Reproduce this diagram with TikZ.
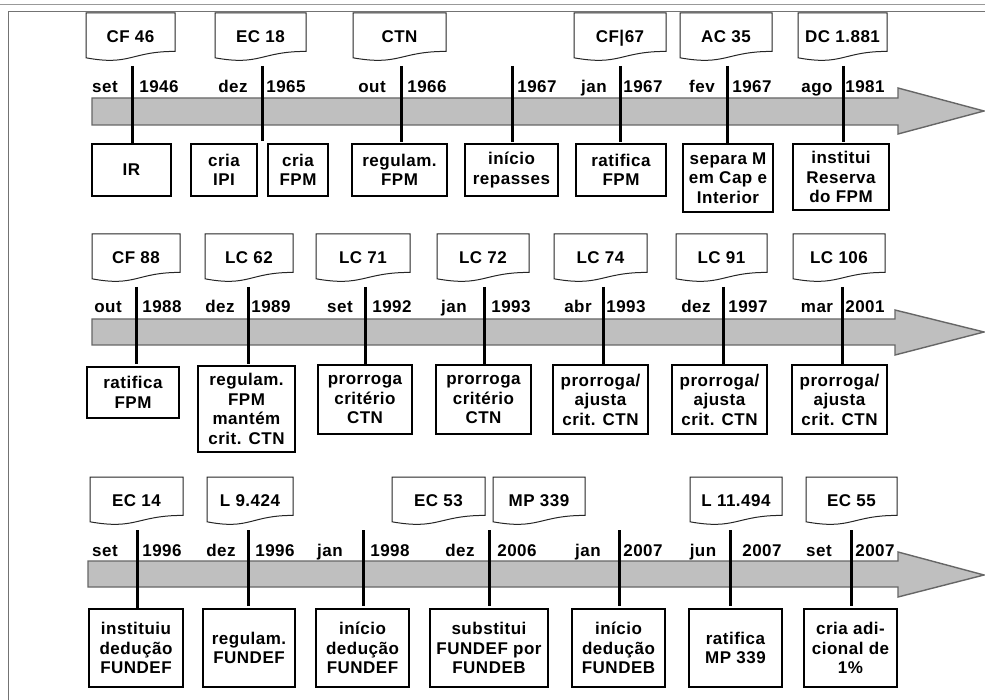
\documentclass[tikz,border=0pt]{standalone}
\usepackage{fontspec}
\setmainfont{Liberation Sans}[LetterSpace=3]
\tikzset{
  x=1pt, y=-1pt,
  txt/.style={font=\bfseries\fontsize{17}{19.5}\selectfont, align=center, inner sep=0pt},
  lbl/.style={txt, anchor=base},
  boxnode/.style={txt, draw=black, line width=1.2pt},
  docnode/.style={txt},
  docline/.style={draw=black!85, line width=1pt, fill=white},
  arrowbody/.style={draw=black!60, line width=1.4pt, fill=black!25, line join=miter},
  tickline/.style={draw=black, line width=3pt},
  frameline/.style={draw=black!55, line width=1pt}
}
% box: name, x1, y1, x2, y2, text
\newcommand\bx[6]{\node[boxnode, minimum width={#4-#2}, minimum height={#5-#3}] (#1) at ({(#2+#4)/2},{(#3+#5)/2}) {#6};}
% document: name, x1, x2, top, text
\newcommand\dc[5]{%
  \path[docline] (#2,#4) -- (#3,#4) -- (#3,#4+38.4) .. controls ({(#2+#3)/2},#4+38.4) and ({(#2+#3)/2},#4+53.1) .. (#2,#4+44.8) -- cycle;
  \node[docnode, anchor=base] (#1) at ({(#2+#3)/2},#4+29.5) {#5};}
% timeline arrow: y1, y2, xleft, xhead, headtop, headbottom, ytip
\newcommand\arr[7]{\path[arrowbody] (#3,#1) -- (#4,#1) -- (#4,#5) -- (984,#7) -- (#4,#6) -- (#4,#2) -- (#3,#2) -- cycle;}
% tick: name, x, ytop, ybottom
\newcommand\tk[4]{\coordinate (#1a) at (#2,#3); \coordinate (#1b) at (#2,#4); \draw[tickline] (#1a) -- (#1b);}
\begin{document}
\begin{tikzpicture}
\useasboundingbox (0,0) rectangle (985,700);
% window frame
\coordinate (fa) at (0,4.5); \coordinate (fb) at (985,4.5);
\coordinate (fc) at (8,12); \coordinate (fd) at (985,12); \coordinate (fe) at (8,700);
\draw[frameline, black!40] (fa) -- (fb);
\draw[frameline] (fd) -- (fc) -- (fe);

% ================= ROW 1 =================
\arr{98}{125}{92}{898}{88}{134}{111}
\dc{d11}{86}{175}{13}{CF 46}
\dc{d12}{215}{306}{13}{EC 18}
\dc{d13}{353}{446}{13}{CTN}
\dc{d14}{574}{666}{13}{CF|67}
\dc{d15}{680}{772}{13}{AC 35}
\dc{d16}{798}{887}{13}{DC 1.881}
\tk{t11}{132}{66}{143}
\tk{t12}{262}{66}{141}
\tk{t13}{401}{66}{142}
\tk{t14}{512}{66}{142}
\tk{t15}{620}{66}{142}
\tk{t16}{727}{66}{144}
\tk{t17}{843}{66}{142}
\node[lbl] (m11) at (105,93) {set};  \node[lbl] (y11) at (159,93) {1946};
\node[lbl] (m12) at (233,93) {dez};  \node[lbl] (y12) at (286,93) {1965};
\node[lbl] (m13) at (372,93) {out};  \node[lbl] (y13) at (427,93) {1966};
\node[lbl] (y14) at (537,93) {1967};
\node[lbl] (m15) at (594,93) {jan};  \node[lbl] (y15) at (643,93) {1967};
\node[lbl] (m16) at (702,93) {fev};  \node[lbl] (y16) at (752,93) {1967};
\node[lbl] (m17) at (817,93) {ago};  \node[lbl] (y17) at (865,93) {1981};
\bx{b11}{92}{144}{171}{196}{IR}
\bx{b12}{191}{144}{257}{196}{cria\\IPI}
\bx{b13}{268}{144}{328}{196}{cria\\FPM}
\bx{b14}{352}{144}{447}{196}{regulam.\\FPM}
\bx{b15}{465}{144}{558}{196}{início\\repasses}
\bx{b16}{576}{144}{666}{196}{ratifica\\FPM}
\bx{b17}{683}{144}{773}{212}{separa M\\em Cap e\\Interior}
\bx{b18}{793}{144}{889}{210}{institui\\Reserva\\do FPM}

% ================= ROW 2 =================
\arr{319}{345}{92}{895}{310}{355}{332}
\dc{d21}{92}{180}{234}{CF 88}
\dc{d22}{205}{293}{234}{LC 62}
\dc{d23}{316}{410}{234}{LC 71}
\dc{d24}{437}{529}{234}{LC 72}
\dc{d25}{554}{647}{234}{LC 74}
\dc{d26}{676}{767}{234}{LC 91}
\dc{d27}{793}{885}{234}{LC 106}
\tk{t21}{136}{287}{364}
\tk{t22}{248}{287}{364}
\tk{t23}{365}{287}{364}
\tk{t24}{484}{287}{364}
\tk{t25}{603}{287}{364}
\tk{t26}{723}{287}{364}
\tk{t27}{842}{287}{364}
\node[lbl] (m21) at (108,313) {out};  \node[lbl] (y21) at (162,313) {1988};
\node[lbl] (m22) at (220,313) {dez};  \node[lbl] (y22) at (271,313) {1989};
\node[lbl] (m23) at (340,313) {set};  \node[lbl] (y23) at (392,313) {1992};
\node[lbl] (m24) at (454,313) {jan};  \node[lbl] (y24) at (511,313) {1993};
\node[lbl] (m25) at (578,313) {abr};  \node[lbl] (y25) at (626,313) {1993};
\node[lbl] (m26) at (696,313) {dez};  \node[lbl] (y26) at (748,313) {1997};
\node[lbl] (m27) at (817,313) {mar};  \node[lbl] (y27) at (865,313) {2001};
\bx{b21}{87}{367}{179}{418}{ratifica\\FPM}
\bx{b22}{198}{366}{295}{452}{regulam.\\FPM\\mantém\\crit. CTN}
\bx{b23}{318}{365}{412}{434}{prorroga\\critério\\CTN}
\bx{b24}{436}{365}{531}{434}{prorroga\\critério\\CTN}
\bx{b25}{553}{365}{648}{434}{prorroga/\\ajusta\\crit. CTN}
\bx{b26}{672}{365}{767}{434}{prorroga/\\ajusta\\crit. CTN}
\bx{b27}{792}{365}{887}{434}{prorroga/\\ajusta\\crit. CTN}

% ================= ROW 3 =================
\arr{561}{587}{88}{898}{552}{597}{575}
\dc{d31}{90}{183}{477}{EC 14}
\dc{d32}{207}{293}{477}{L 9.424}
\dc{d33}{392}{485}{477}{EC 53}
\dc{d34}{493}{585}{477}{MP 339}
\dc{d35}{690}{782}{477}{L 11.494}
\dc{d36}{806}{897}{477}{EC 55}
\tk{t31}{137}{530}{608}
\tk{t32}{248}{530}{606}
\tk{t33}{363}{530}{606}
\tk{t34}{489}{530}{606}
\tk{t35}{619}{530}{606}
\tk{t36}{730}{530}{606}
\tk{t37}{851}{530}{606}
\node[lbl] (m31) at (105,556) {set};  \node[lbl] (y31) at (162,556) {1996};
\node[lbl] (m32) at (221,556) {dez};  \node[lbl] (y32) at (275,556) {1996};
\node[lbl] (m33) at (330,556) {jan};  \node[lbl] (y33) at (390,556) {1998};
\node[lbl] (m34) at (460,556) {dez};  \node[lbl] (y34) at (517,556) {2006};
\node[lbl] (m35) at (588,556) {jan};  \node[lbl] (y35) at (643,556) {2007};
\node[lbl] (m36) at (703,556) {jun};  \node[lbl] (y36) at (762,556) {2007};
\node[lbl] (m37) at (819,556) {set};  \node[lbl] (y37) at (875,556) {2007};
\bx{b31}{89}{609}{183}{687}{instituiu\\dedução\\FUNDEF}
\bx{b32}{203}{609}{295}{687}{regulam.\\FUNDEF}
\bx{b33}{316}{609}{409}{687}{início\\dedução\\FUNDEF}
\bx{b34}{430}{609}{548}{687}{substitui\\FUNDEF por\\FUNDEB}
\bx{b35}{572}{609}{665}{687}{início\\dedução\\FUNDEB}
\bx{b36}{689}{609}{782}{687}{ratifica\\MP 339}
\bx{b37}{804}{609}{897}{687}{cria adi-\\cional de\\1\%}
\end{tikzpicture}
\end{document}
